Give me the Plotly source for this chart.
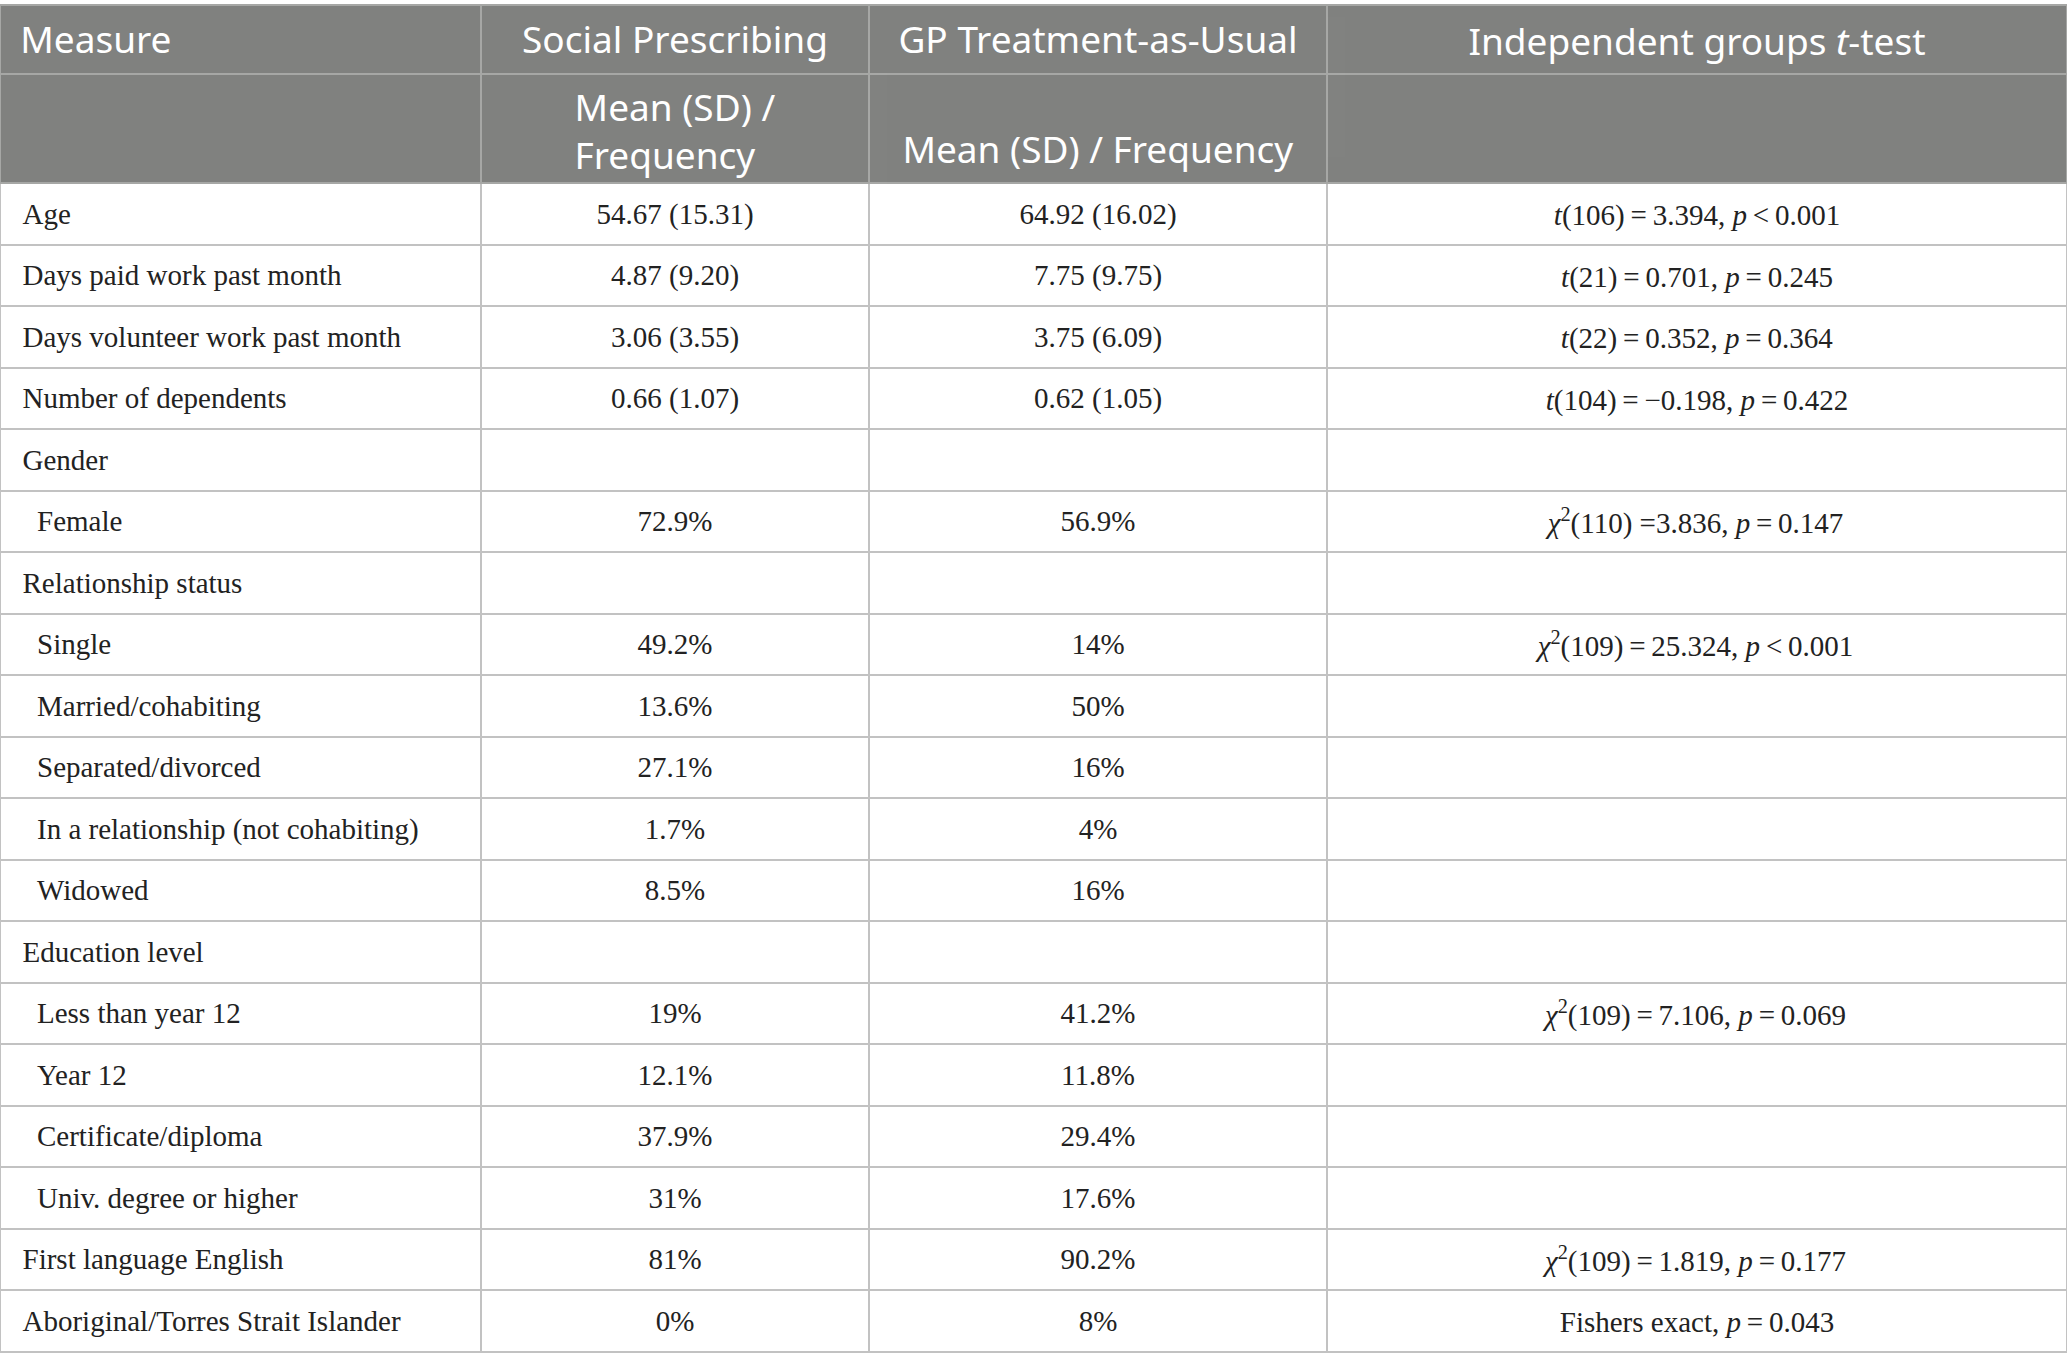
import plotly.graph_objects as go

NB = "\u00a0"

# column headings
header_top = ["\u2009\u2009Measure", "Social Prescribing", "GP Treatment-as-Usual",
              "Independent groups <i>t</i>-test"]
header_sub = ["", "Mean (SD) /<br>Frequency", "Mean (SD) / Frequency", ""]

# row labels (two leading spaces = indented sub-item)
measures = [
    "Age",
    "Days paid work past month",
    "Days volunteer work past month",
    "Number of dependents",
    "Gender",
    "  Female",
    "Relationship status",
    "  Single",
    "  Married/cohabiting",
    "  Separated/divorced",
    "  In a relationship (not cohabiting)",
    "  Widowed",
    "Education level",
    "  Less than year 12",
    "  Year 12",
    "  Certificate/diploma",
    "  Univ. degree or higher",
    "First language English",
    "Aboriginal/Torres Strait Islander",
]

social_prescribing = [
    "54.67 (15.31)", "4.87 (9.20)", "3.06 (3.55)", "0.66 (1.07)",
    "", "72.9%", "", "49.2%", "13.6%", "27.1%", "1.7%", "8.5%",
    "", "19%", "12.1%", "37.9%", "31%", "81%", "0%",
]

gp_usual = [
    "64.92 (16.02)", "7.75 (9.75)", "3.75 (6.09)", "0.62 (1.05)",
    "", "56.9%", "", "14%", "50%", "16%", "4%", "16%",
    "", "41.2%", "11.8%", "29.4%", "17.6%", "90.2%", "8%",
]

tests = [
    "<i>t</i>(106)\u2009=\u20093.394, <i>p</i>\u2009&lt;\u20090.001",
    "<i>t</i>(21)\u2009=\u20090.701, <i>p</i>\u2009=\u20090.245",
    "<i>t</i>(22)\u2009=\u20090.352, <i>p</i>\u2009=\u20090.364",
    "<i>t</i>(104)\u2009=\u2009\u22120.198, <i>p</i>\u2009=\u20090.422",
    "",
    "<i>\u03c7</i><sup>2</sup>(110) =3.836, <i>p</i>\u2009=\u20090.147",
    "",
    "<i>\u03c7</i><sup>2</sup>(109)\u2009=\u200925.324, <i>p</i>\u2009&lt;\u20090.001",
    "", "", "", "",
    "",
    "<i>\u03c7</i><sup>2</sup>(109)\u2009=\u20097.106, <i>p</i>\u2009=\u20090.069",
    "", "", "",
    "<i>\u03c7</i><sup>2</sup>(109)\u2009=\u20091.819, <i>p</i>\u2009=\u20090.177",
    "Fishers exact, <i>p</i>\u2009=\u20090.043",
]

W, H = 2067, 1371
col_widths = [481, 388, 458, 740]
HEAD_FILL = "#80817f"
HEAD_LINE = "#a6a7a5"
BODY_LINE = "#c2c2c2"
CLEAR = "rgba(0,0,0,0)"
head_font = dict(family="Noto Sans", size=37, color="white")
body_font = dict(family="Liberation Serif", size=29, color="#222222")
n_rows = len(measures)
TOP, HEAD1, HEAD2, ROW = 5, 69, 109, 61.5
body_top = TOP + HEAD1
body_bottom = body_top + HEAD2 + ROW * n_rows + 2


def label(s):
    # plotly collapses plain spaces, so indent with no-break spaces
    return NB * 4 + s.strip() if s.startswith("  ") else NB * 2 + s


def xdom(c0, c1):
    tot = sum(col_widths)
    return [sum(col_widths[:c0]) / tot, sum(col_widths[:c1]) / tot]


def ydom(top, bottom, shift=0):
    return [max(0, 1 - (bottom + shift) / H), min(1, 1 - (top + shift) / H)]


fig = go.Figure()

# ---- grid: fills and rules ----
fig.add_trace(go.Table(
    domain=dict(x=[0, 1], y=ydom(TOP, body_top)),
    columnwidth=col_widths,
    header=dict(values=[NB] * 4, height=HEAD1, fill_color=HEAD_FILL,
                line=dict(color=HEAD_LINE, width=2)),
))
fig.add_trace(go.Table(
    domain=dict(x=[0, 1], y=ydom(body_top, body_bottom)),
    columnwidth=col_widths,
    header=dict(values=[NB] * 4, height=HEAD2, fill_color=HEAD_FILL,
                line=dict(color=HEAD_LINE, width=2)),
    cells=dict(values=[[NB] * n_rows for _ in range(4)], height=ROW, fill_color="white",
               line=dict(color=BODY_LINE, width=2)),
))

# ---- text layers (transparent), nudged down to sit mid-cell ----
clear_line = dict(color=CLEAR, width=0)


def head_text(c0, c1, values, top, shift, align):
    # roomy rows so plotly never has to grow them (text is top-anchored anyway)
    fig.add_trace(go.Table(
        domain=dict(x=xdom(c0, c1), y=ydom(top, top + 140, shift)),
        columnwidth=col_widths[c0:c1],
        header=dict(values=values[c0:c1], height=140, fill_color=CLEAR,
                    line=clear_line, align=align, font=head_font),
    ))


def body_text(c0, c1, columns, shift, align):
    fig.add_trace(go.Table(
        domain=dict(x=xdom(c0, c1), y=ydom(body_top, body_bottom, shift)),
        columnwidth=col_widths[c0:c1],
        header=dict(values=[NB] * (c1 - c0), height=HEAD2, fill_color=CLEAR,
                    line=clear_line),
        cells=dict(values=columns, height=ROW, fill_color=CLEAR, line=clear_line,
                   align=align, font=body_font),
    ))


head_text(0, 3, header_top, TOP, 12, ["left", "center", "center"])
head_text(3, 4, header_top, TOP, 2, "center")
head_text(0, 2, header_sub, body_top, -1, "center")
head_text(2, 4, header_sub, body_top, 53, "center")

body_text(0, 3, [[label(m) for m in measures], social_prescribing, gp_usual], 11,
          ["left", "center", "center"])
chi_rows = [t if "<sup>" in t else "" for t in tests]
plain_rows = [t if "<sup>" not in t else "" for t in tests]
body_text(3, 4, [plain_rows], 8, "center")
body_text(3, 4, [chi_rows], 4, "center")

fig.update_layout(width=W, height=H, margin=dict(l=0, r=0, t=0, b=0),
                  paper_bgcolor="white")

# drop the page's default body margin so the figure fills the window exactly
fig.write_html("out.html", config={"displayModeBar": False},
               post_script="document.body.style.margin = '0';")
